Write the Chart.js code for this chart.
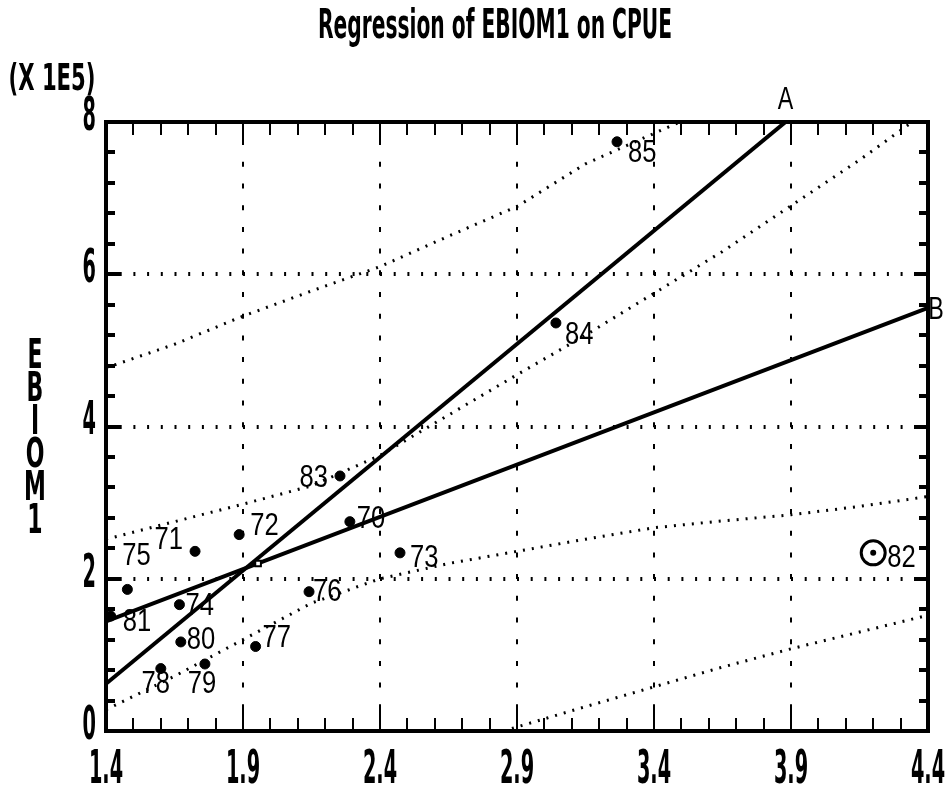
<!DOCTYPE html>
<html>
<head>
<meta charset="utf-8">
<title>Regression of EBIOM1 on CPUE</title>
<script src="https://cdn.jsdelivr.net/npm/chart.js@4.4.0/dist/chart.umd.min.js"></script>
<style>
    html, body { margin: 0; padding: 0; background: #ffffff; }
    canvas { display: block; }
</style>
</head>
<body>
<canvas id="regChart" width="948" height="793"></canvas>
<script>
//
// Data. EBIOM1 is in units of 1E5.
//
var years = ['70', '71', '72', '73', '74', '75', '76', '77', '78', '79', '80', '81', '82', '83', '84', '85'];
var cpue  = [2.29, 1.725, 1.886, 2.473, 1.668, 1.478, 2.141, 1.946, 1.60, 1.761, 1.673, 1.417, 4.20, 2.254, 3.042, 3.265];
var ebiom = [2.75, 2.36, 2.58, 2.34, 1.66, 1.86, 1.83, 1.11, 0.82, 0.88, 1.17, 1.51, 2.34, 3.35, 5.36, 7.74];

// regression lines (end points)
var lineAx = [1.4, 3.88];
var lineAy = [0.62, 8.0];
var lineBx = [1.4, 4.4];
var lineBy = [1.44, 5.56];

// point where the two lines cross (means)
var meanX = [1.955];
var meanY = [2.2];

// dotted bands
var bandX     = [1.4, 1.65, 1.9, 2.15, 2.4, 2.65, 2.9, 3.15, 3.4, 3.65, 3.9, 4.15, 4.4];
var confUpper = [2.52, 2.75, 2.98, 3.22, 3.62, 4.15, 4.68, 5.2, 5.75, 6.3, 6.9, 7.5, 8.15];
var confLower = [0.28, 0.72, 1.2, 1.68, 2.0, 2.2, 2.36, 2.52, 2.67, 2.76, 2.84, 2.95, 3.08];
var predUpperX = [1.4, 1.65, 1.9, 2.15, 2.4, 2.65, 2.9, 3.15, 3.4, 3.65];
var predUpper  = [4.77, 5.08, 5.45, 5.78, 6.1, 6.5, 6.89, 7.45, 7.85, 8.25];
var predLowerX = [2.85, 3.15, 3.4, 3.65, 3.9, 4.15, 4.4];
var predLower  = [0.0, 0.32, 0.58, 0.84, 1.08, 1.3, 1.52];

var xTicks = [1.4, 1.9, 2.4, 2.9, 3.4, 3.9, 4.4];
var yTicks = [0, 2, 4, 6, 8];

var outlier = '82';

function zip(xs, ys) {
    return xs.map(function (x, i) { return { x: x, y: ys[i] }; });
}

// where each year label sits relative to its point: dx, dy, align
var labelPos = {
    '70': [7, -2, 'left'],   '71': [-12, -11, 'right'], '72': [11, -8, 'left'],  '73': [10, 5, 'left'],
    '74': [6, 2, 'left'],    '75': [-5, -33, 'left'],   '76': [4, 0, 'left'],    '77': [7, -8, 'left'],
    '78': [-5, 16, 'center'], '79': [-3, 20, 'center'], '80': [6, -2, 'left'],   '81': [12, 6, 'left'],
    '82': [14, 5, 'left'],   '83': [-12, 2, 'right'],   '84': [9, 12, 'left'],   '85': [11, 11, 'left']
};

function stretchText(ctx, str, x, y, font, sx, align) {
    ctx.save();
    ctx.font = font;
    ctx.textAlign = align || 'center';
    ctx.textBaseline = 'middle';
    ctx.translate(x, y);
    ctx.scale(sx, 1);
    ctx.fillText(str, 0, 0);
    ctx.restore();
}

function fitText(ctx, str, x, y, font, width) {
    ctx.save();
    ctx.font = font;
    var sx = width / ctx.measureText(str).width;
    ctx.restore();
    stretchText(ctx, str, x, y, font, sx, 'center');
}

var TICK_FONT = 'bold 46px "DejaVu Sans"';

var decor = {
    id: 'decor',
    beforeDatasetsDraw: function (chart) {
        var ctx = chart.ctx, a = chart.chartArea, xs = chart.scales.x, ys = chart.scales.y;
        ctx.save();
        ctx.strokeStyle = '#000';

        // dotted grid at the major ticks
        ctx.lineWidth = 2;
        ctx.setLineDash([5, 16.7]);
        xTicks.slice(1, -1).forEach(function (v) {
            var px = Math.round(xs.getPixelForValue(v));
            ctx.beginPath(); ctx.moveTo(px, a.bottom); ctx.lineTo(px, a.top); ctx.stroke();
        });
        ctx.lineWidth = 4;
        ctx.setLineDash([2, 11.7]);
        yTicks.slice(1, -1).forEach(function (v) {
            var py = Math.round(ys.getPixelForValue(v));
            ctx.beginPath(); ctx.moveTo(a.left, py); ctx.lineTo(a.right, py); ctx.stroke();
        });
        ctx.setLineDash([]);

        // inward tick marks on all four sides
        ctx.lineWidth = 2;
        for (var i = 0; i <= 30; i++) {
            var px = Math.round(xs.getPixelForValue(1.4 + i * 0.1));
            var len = i % 5 === 0 ? 23 : 13;
            ctx.beginPath(); ctx.moveTo(px, a.bottom); ctx.lineTo(px, a.bottom - len); ctx.stroke();
            ctx.beginPath(); ctx.moveTo(px, a.top); ctx.lineTo(px, a.top + len); ctx.stroke();
        }
        ctx.lineWidth = 4;
        for (var j = 0; j <= 20; j++) {
            var py = Math.round(ys.getPixelForValue(j * 0.4));
            var ylen = j % 5 === 0 ? 14 : 9;
            ctx.beginPath(); ctx.moveTo(a.left, py); ctx.lineTo(a.left + ylen, py); ctx.stroke();
            ctx.beginPath(); ctx.moveTo(a.right, py); ctx.lineTo(a.right - ylen, py); ctx.stroke();
        }
        ctx.restore();
    },
    afterDatasetsDraw: function (chart) {
        var ctx = chart.ctx, a = chart.chartArea, xs = chart.scales.x, ys = chart.scales.y;
        ctx.save();

        // frame
        ctx.strokeStyle = '#000';
        ctx.lineWidth = 4;
        ctx.strokeRect(a.left, a.top, a.right - a.left, a.bottom - a.top);

        // centre dot of the circled outlier
        ctx.fillStyle = '#000';
        var k = years.indexOf(outlier);
        ctx.beginPath();
        ctx.arc(xs.getPixelForValue(cpue[k]), ys.getPixelForValue(ebiom[k]), 3, 0, Math.PI * 2);
        ctx.fill();

        // year labels
        years.forEach(function (yr, i) {
            var p = labelPos[yr];
            var px = xs.getPixelForValue(cpue[i]) + p[0];
            var py = ys.getPixelForValue(ebiom[i]) + p[1];
            stretchText(ctx, yr, px, py, '32px "Liberation Sans"', 0.8, p[2]);
        });

        // line names
        stretchText(ctx, 'A', xs.getPixelForValue(lineAx[1]), a.top - 22, '31px "Liberation Sans"', 0.75, 'center');
        stretchText(ctx, 'B', a.right + 8, ys.getPixelForValue(lineBy[1]) + 3, '31px "Liberation Sans"', 0.75, 'center');
        ctx.restore();
    },
    afterDraw: function (chart) {
        var ctx = chart.ctx, a = chart.chartArea, xs = chart.scales.x, ys = chart.scales.y;
        ctx.save();
        ctx.fillStyle = '#000';

        fitText(ctx, 'Regression of EBIOM1 on CPUE', 495, 28, 'bold 40px "DejaVu Sans"', 354);
        fitText(ctx, '(X 1E5)', 52, 80, 'bold 38px "DejaVu Sans"', 87);

        'EBIOM1'.split('').forEach(function (ch, i) {
            stretchText(ctx, ch, 35, 358 + 33 * i, 'bold 40px "DejaVu Sans"', 0.55, 'center');
        });

        xs.ticks.forEach(function (t) {
            stretchText(ctx, t.value.toFixed(1), xs.getPixelForValue(t.value), 771, TICK_FONT, 0.42, 'center');
        });
        ys.ticks.forEach(function (t) {
            stretchText(ctx, String(t.value), a.left - 10, ys.getPixelForValue(t.value) - 4, TICK_FONT, 0.42, 'right');
        });
        ctx.restore();
    }
};

var dotted = {
    showLine: true,
    pointRadius: 0,
    borderColor: '#000',
    borderWidth: 3,
    borderDash: [2, 7],
    fill: false
};

var config = {
    type: 'scatter',
    data: {
        datasets: [{
            label: 'Years',
            data: zip(cpue, ebiom),
            pointRadius: function (c) { return years[c.dataIndex] === outlier ? 12 : 5; },
            pointBackgroundColor: function (c) { return years[c.dataIndex] === outlier ? '#ffffff' : '#000000'; },
            pointBorderColor: '#000',
            pointBorderWidth: function (c) { return years[c.dataIndex] === outlier ? 3 : 1; }
        }, {
            label: 'Mean',
            data: zip(meanX, meanY),
            pointStyle: 'rect',
            pointRadius: 4,
            pointBackgroundColor: '#ffffff',
            pointBorderColor: '#000',
            pointBorderWidth: 2
        }, {
            label: 'A',
            data: zip(lineAx, lineAy),
            showLine: true, pointRadius: 0, borderColor: '#000', borderWidth: 4
        }, {
            label: 'B',
            data: zip(lineBx, lineBy),
            showLine: true, pointRadius: 0, borderColor: '#000', borderWidth: 4
        },
        Object.assign({ label: 'conf upper', data: zip(bandX, confUpper) }, dotted),
        Object.assign({ label: 'conf lower', data: zip(bandX, confLower) }, dotted),
        Object.assign({ label: 'pred upper', data: zip(predUpperX, predUpper) }, dotted),
        Object.assign({ label: 'pred lower', data: zip(predLowerX, predLower) }, dotted)
        ]
    },
    options: {
        responsive: false,
        animation: false,
        layout: { padding: { top: 122, right: 20, left: 0, bottom: 0 } },
        plugins: {
            legend: { display: false },
            title: { display: false },
            tooltip: { enabled: false }
        },
        scales: {
            x: {
                type: 'linear', min: 1.4, max: 4.4,
                afterBuildTicks: function (axis) { axis.ticks = xTicks.map(function (v) { return { value: v }; }); },
                afterFit: function (axis) { axis.height = 62; },
                ticks: { display: false },
                grid: { display: false, drawTicks: false },
                border: { display: false }
            },
            y: {
                type: 'linear', min: 0, max: 8,
                afterBuildTicks: function (axis) { axis.ticks = yTicks.map(function (v) { return { value: v }; }); },
                afterFit: function (axis) { axis.width = 106; },
                ticks: { display: false },
                grid: { display: false, drawTicks: false },
                border: { display: false }
            }
        }
    },
    plugins: [decor]
};

var ctx = document.getElementById('regChart').getContext('2d');
window.regChart = new Chart(ctx, config);
</script>
</body>
</html>
